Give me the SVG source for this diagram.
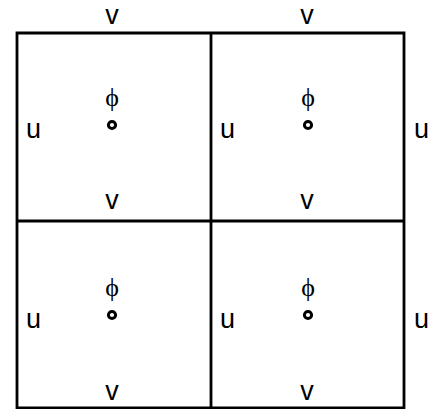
<svg xmlns="http://www.w3.org/2000/svg" width="428" height="409" viewBox="0 0 428 409">
<style>
.grid{fill:none;stroke:#000;stroke-width:2.8}
.lbl{font-family:"Liberation Sans",Arial,sans-serif;font-size:27px;fill:#000}
.phi{font-family:"Liberation Serif","Times New Roman",serif;font-size:26px;fill:#000;text-anchor:middle}
.pt{fill:#fff;stroke:#000;stroke-width:3}
.mid{text-anchor:middle}
</style>
<rect width="428" height="409" fill="#fff"/>
<g id="grid">
<path class="grid" d="M17,33H404V408H17Z M211,33V408 M17,221H404"/>
</g>
<g id="cell-tl">
<text class="phi" x="112" y="106">ϕ</text>
<circle class="pt" cx="112" cy="125" r="3.6"/>
</g>
<g id="cell-tr">
<text class="phi" x="308" y="106">ϕ</text>
<circle class="pt" cx="308" cy="125" r="3.6"/>
</g>
<g id="cell-bl">
<text class="phi" x="112" y="296">ϕ</text>
<circle class="pt" cx="112" cy="315" r="3.6"/>
</g>
<g id="cell-br">
<text class="phi" x="308" y="296">ϕ</text>
<circle class="pt" cx="308" cy="315" r="3.6"/>
</g>
<g id="labels">
<text class="lbl mid" x="112" y="24">v</text>
<text class="lbl mid" x="307" y="24">v</text>
<text class="lbl mid" x="112" y="209">v</text>
<text class="lbl mid" x="307" y="209">v</text>
<text class="lbl mid" x="112" y="400">v</text>
<text class="lbl mid" x="307" y="400">v</text>
<text class="lbl" x="26" y="138">u</text>
<text class="lbl" x="220" y="138">u</text>
<text class="lbl" x="414" y="138">u</text>
<text class="lbl" x="26" y="328">u</text>
<text class="lbl" x="220" y="328">u</text>
<text class="lbl" x="414" y="328">u</text>
</g>
</svg>
